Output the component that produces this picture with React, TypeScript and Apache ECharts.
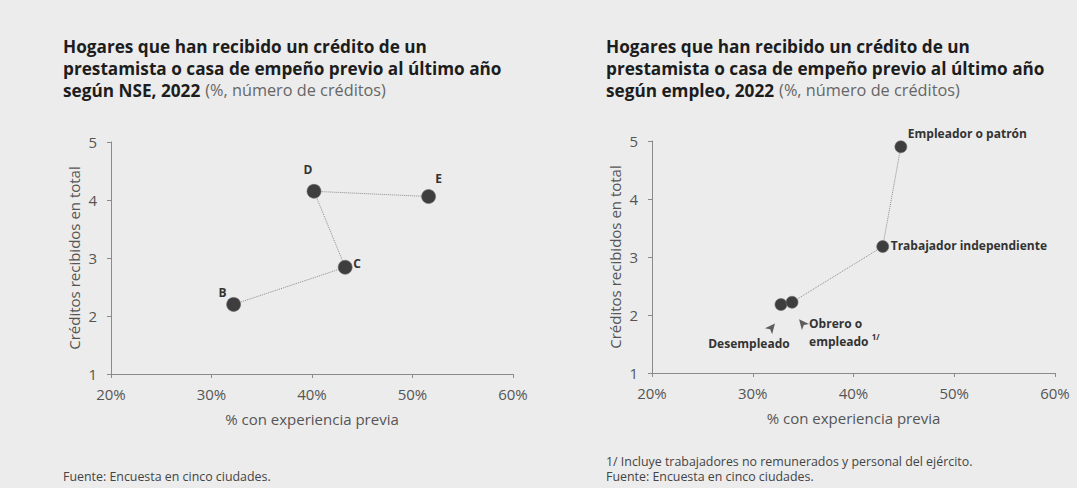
import React, { useEffect, useRef } from "react";
import * as echarts from "echarts";

// ---- data ----
const xTicks = [20, 30, 40, 50, 60];
const yTicks = [1, 2, 3, 4, 5];

const nseLabels = ["B", "C", "D", "E"];
const nseExperience = [32.2, 43.3, 40.2, 51.6];
const nseCredits = [2.2, 2.84, 4.15, 4.06];

const empleoLabels = ["Desempleado", "Obrero o empleado", "Trabajador independiente", "Empleador o patrón"];
const empleoExperience = [32.8, 33.9, 42.9, 44.7];
const empleoCredits = [2.18, 2.22, 3.18, 4.9];

const titleMain = ["Hogares que han recibido un crédito de un", "prestamista o casa de empeño previo al último año"];
const titleNse = "según NSE, 2022";
const titleEmpleo = "según empleo, 2022";
const titleUnits = "(%, número de créditos)";
const xName = "% con experiencia previa";
const yName = "Créditos recibidos en total";
const noteEmpleo = "1/ Incluye trabajadores no remunerados y personal del ejército.";
const source = "Fuente: Encuesta en cinco ciudades.";

// ---- style ----
const F = "'Open Sans', 'Noto Sans', sans-serif";
const AXIS = "#8a8a8a";

const nseLabelOffsets: [number, number][] = [[-11, -12], [12, -4], [-6, -22], [10, -18]];
const empleoLabelStyle: any[] = [
  { offset: [-32, 39], align: "center" },
  { offset: [17, 30], align: "left" },
  { offset: [8, -1], align: "left" },
  { offset: [7, -13], align: "left" },
];
const arrowStyle: any[] = [
  { symbolOffset: [-6, 19], symbolRotate: -40 },
  { symbolOffset: [7, 17], symbolRotate: 40 },
];

function titleText(third: string) {
  return `{b|${titleMain[0]}}\n{b|${titleMain[1]}}\n{b|${third}} {n|${titleUnits}}`;
}
const titleRich = {
  b: { fontFamily: F, fontWeight: "bold", fontSize: 17.2, color: "#1d1d1d", lineHeight: 22 },
  n: { fontFamily: F, fontWeight: "normal", fontSize: 16.3, color: "#666", lineHeight: 22 },
};
const noteStyle = { fontFamily: F, fontSize: 12.4, fontWeight: "normal", color: "#444", lineHeight: 15 };

function xAxis(gridIndex: number) {
  return {
    type: "value",
    gridIndex,
    min: xTicks[0],
    max: xTicks[xTicks.length - 1],
    interval: xTicks[1] - xTicks[0],
    axisLine: { show: true, lineStyle: { color: AXIS, width: 1 } },
    axisTick: { show: true, length: 4, lineStyle: { color: AXIS } },
    splitLine: { show: false },
    axisLabel: { formatter: "{value}%", color: "#555", fontSize: 15, fontFamily: F, margin: 12 },
    name: xName,
    nameLocation: "middle",
    nameGap: 37,
    nameTextStyle: { color: "#555", fontSize: 15, fontFamily: F },
  };
}
function yAxis(gridIndex: number) {
  return {
    type: "value",
    gridIndex,
    min: yTicks[0],
    max: yTicks[yTicks.length - 1],
    interval: yTicks[1] - yTicks[0],
    axisLine: { show: true, lineStyle: { color: AXIS, width: 1 } },
    axisTick: { show: true, length: 4, lineStyle: { color: AXIS } },
    splitLine: { show: false },
    axisLabel: { color: "#555", fontSize: 15, fontFamily: F, margin: 14 },
    name: yName,
    nameLocation: "middle",
    nameGap: 30,
    nameTextStyle: { color: "#555", fontSize: 15, fontFamily: F },
  };
}

export default function App() {
  const ref = useRef<HTMLDivElement>(null);
  useEffect(() => {
    if (!ref.current) return;
    const chart = echarts.init(ref.current, null, { renderer: "svg" });
    const option: any = {
      animation: false,
      backgroundColor: "#ececec",
      title: [
        { left: 63, top: 35, padding: 0, text: titleText(titleNse), textStyle: { rich: titleRich } },
        { left: 606, top: 35, padding: 0, text: titleText(titleEmpleo), textStyle: { rich: titleRich } },
        { left: 63, top: 469, padding: 0, text: source, textStyle: noteStyle },
        { left: 606, top: 454, padding: 0, text: noteEmpleo + "\n" + source, textStyle: noteStyle },
      ],
      grid: [
        { left: 111, right: 564, top: 142, bottom: 114 },
        { left: 652, right: 22, top: 141, bottom: 115 },
      ],
      xAxis: [xAxis(0), xAxis(1)],
      yAxis: [yAxis(0), yAxis(1)],
      series: [
        {
          type: "line",
          xAxisIndex: 0,
          yAxisIndex: 0,
          symbol: "circle",
          symbolSize: 14,
          showAllSymbol: true,
          itemStyle: { color: "#3e3e3e", borderColor: "#6a6a6a", borderWidth: 0.6 },
          lineStyle: { color: "#8c8c8c", width: 1, type: "dotted" },
          label: {
            show: true,
            position: "inside",
            formatter: "{b}",
            fontFamily: F,
            fontWeight: "bold",
            fontSize: 12,
            color: "#333",
            align: "center",
            verticalAlign: "middle",
          },
          data: nseLabels.map((n, i) => ({
            name: n,
            value: [nseExperience[i], nseCredits[i]],
            label: { offset: nseLabelOffsets[i] },
          })),
        },
        {
          type: "line",
          xAxisIndex: 1,
          yAxisIndex: 1,
          symbol: "circle",
          symbolSize: 12,
          showAllSymbol: true,
          itemStyle: { color: "#3e3e3e", borderColor: "#6a6a6a", borderWidth: 0.6 },
          lineStyle: { color: "#8c8c8c", width: 1, type: "dotted" },
          label: {
            show: true,
            position: "inside",
            fontFamily: F,
            fontWeight: "bold",
            fontSize: 12,
            color: "#333",
            verticalAlign: "middle",
            lineHeight: 18,
            formatter: (p: any) =>
              p.dataIndex === 1 ? "{t|Obrero o}\n{t|empleado} {s|1/}" : p.name,
            rich: {
              t: { fontFamily: F, fontWeight: "bold", fontSize: 12, color: "#333", lineHeight: 18 },
              s: { fontFamily: F, fontWeight: "bold", fontSize: 8, color: "#333", lineHeight: 18, verticalAlign: "top" },
            },
          },
          data: empleoLabels.map((n, i) => ({
            name: n,
            value: [empleoExperience[i], empleoCredits[i]],
            label: empleoLabelStyle[i],
          })),
        },
        {
          type: "scatter",
          xAxisIndex: 1,
          yAxisIndex: 1,
          symbol: "arrow",
          symbolSize: [7, 10],
          itemStyle: { color: "#3a3a3a" },
          silent: true,
          z: 1,
          data: arrowStyle.map((s, i) => ({
            value: [empleoExperience[i], empleoCredits[i]],
            symbolOffset: s.symbolOffset,
            symbolRotate: s.symbolRotate,
          })),
        },
      ],
    };
    chart.setOption(option);
    return () => chart.dispose();
  }, []);
  return (
    <div
      ref={ref}
      style={{ position: "fixed", left: 0, top: 0, width: 1077, height: 488, background: "#ececec" }}
    />
  );
}
